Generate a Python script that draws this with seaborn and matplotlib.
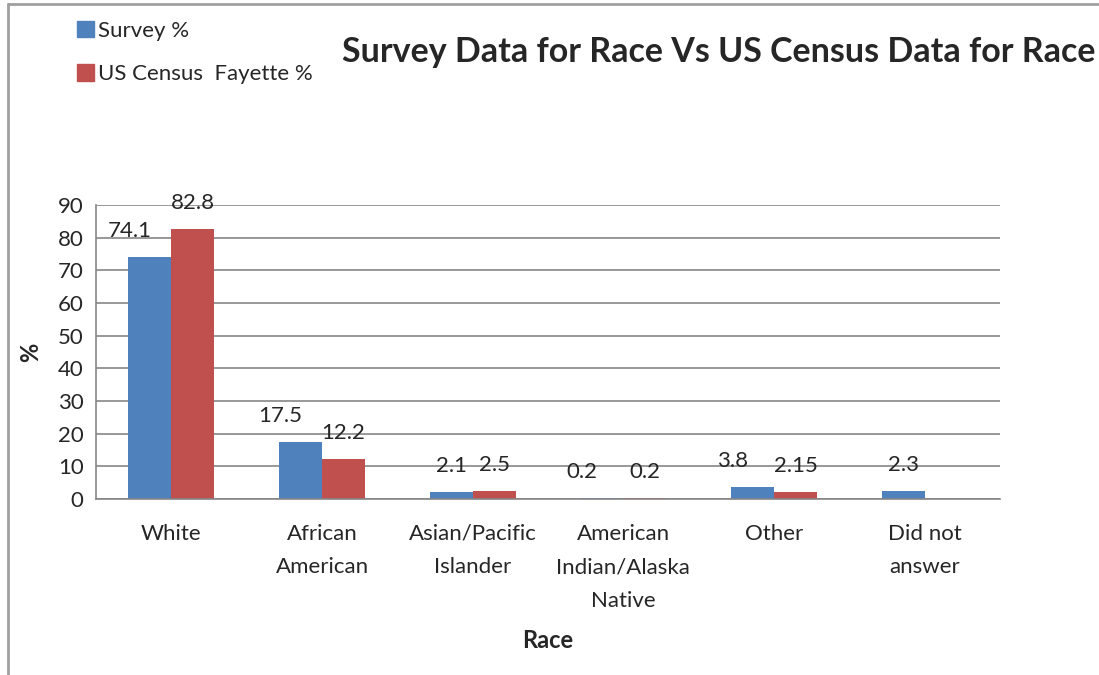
import matplotlib
matplotlib.use("Agg")
import matplotlib.pyplot as plt
import seaborn as sns
import pandas as pd
import numpy as np
from matplotlib.lines import Line2D

categories = ["White", "African\nAmerican", "Asian/Pacific\nIslander",
              "American\nIndian/Alaska\nNative", "Other", "Did not\nanswer"]
survey = [74.1, 17.5, 2.1, 0.2, 3.8, 2.3]
census = [82.8, 12.2, 2.5, 0.2, 2.15, np.nan]
census_labels = ["82.8", "12.2", "2.5", "0.2", "2.15", None]
survey_labels = ["74.1", "17.5", "2.1", "0.2", "3.8", "2.3"]
series_names = ["Survey %", "US Census  Fayette %"]
yticks = list(range(0, 100, 10))

df = pd.DataFrame({
    "Race": categories * 2,
    "Value": survey + census,
    "Series": [series_names[0]] * len(categories) + [series_names[1]] * len(categories),
})

sns.set_style("white")
plt.rcParams["font.family"] = ["Lato", "DejaVu Sans"]

W, H = 1099, 675
fig = plt.figure(figsize=(W / 100, H / 100), dpi=100)
ax = fig.add_axes([96 / W, 1 - 499 / H, (1000 - 96) / W, (499 - 205) / H])

colors = ["#4F81BD", "#C0504D"]
sns.barplot(data=df, x="Race", y="Value", hue="Series", palette=colors,
            width=0.57, ax=ax, saturation=1, legend=False, errorbar=None, gap=0,
            linewidth=0)

FS = 16
ax.set_ylim(0, 90)
ax.set_xlim(-0.5, len(categories) - 0.5)
ax.set_yticks(yticks)
ax.set_yticklabels([str(t) for t in yticks], fontsize=FS)
grid_c = "#868686"
ax.yaxis.grid(True, color=grid_c, linewidth=1.2)
ax.set_axisbelow(True)
for s in ["top", "right"]:
    ax.spines[s].set_visible(False)
for s in ["left", "bottom"]:
    ax.spines[s].set_color(grid_c)
    ax.spines[s].set_linewidth(1.2)

# x ticks at category boundaries; labels centered
ax.set_xticks(np.arange(-0.5, len(categories), 1.0))
ax.set_xticklabels([])
ax.set_xticks(np.arange(len(categories)), minor=True)
ax.set_xticklabels(categories, minor=True, fontsize=FS, linespacing=1.83, va="top")
ax.tick_params(axis="x", which="major", length=7, width=1.2, color=grid_c, direction="out")
ax.tick_params(axis="x", which="minor", length=0, pad=18)
ax.tick_params(axis="y", length=6, width=1.2, color=grid_c, direction="out", pad=3)

ax.set_xlabel("Race", fontsize=17, fontweight="bold", labelpad=13)
ax.set_ylabel("%", fontsize=17, fontweight="bold", labelpad=11)

# data labels
for ci, (container, labels) in enumerate(zip(ax.containers, [survey_labels, census_labels])):
    for i, patch in enumerate(container.patches):
        lab = labels[i] if i < len(labels) else None
        h = patch.get_height()
        if lab is None or not np.isfinite(h):
            continue
        xc = patch.get_x() + patch.get_width() / 2
        dx = 0
        if ci == 0 and census_labels[i] is not None and i != 2:
            dx = -20
        ax.annotate(lab, (xc, h), xytext=(dx, 26), textcoords="offset pixels",
                    ha="center", va="center", fontsize=FS, clip_on=False)

fig.text(719 / W, 1 - 52 / H, "Survey Data for Race Vs US Census Data for Race",
         ha="center", va="center", fontsize=24.5, fontweight="bold")

# legend
handles = [plt.Rectangle((0, 0), 1, 1, color=c) for c in colors]
leg = fig.legend(handles, series_names, loc="upper left", bbox_to_anchor=(68 / W, 1 - 12 / H),
                 frameon=False, fontsize=FS, handlelength=0.75, handleheight=0.75,
                 handletextpad=0.2, labelspacing=1.05, borderaxespad=0)

# outer chart frame (partially visible)
fig.add_artist(Line2D([8 / W, 8 / W], [0, 1 - 4 / H], color="#A0A0A0", lw=2, transform=fig.transFigure))
fig.add_artist(Line2D([8 / W, 1], [1 - 4 / H, 1 - 4 / H], color="#A0A0A0", lw=2, transform=fig.transFigure))

fig.savefig("out.png", dpi=100)
